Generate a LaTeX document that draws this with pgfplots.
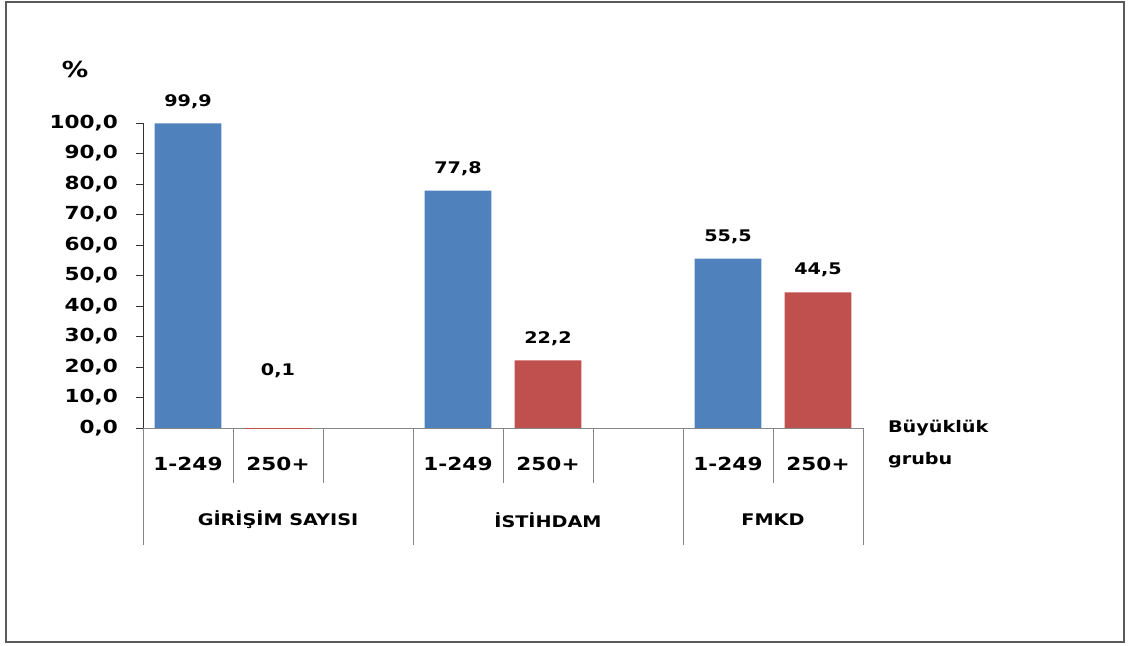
\documentclass[border=0pt]{standalone}
\usepackage{pgfplots}
\pgfplotsset{compat=1.18}
\usepackage{fontspec}
\setmainfont[FakeStretch=1.2]{DejaVu Sans}
\definecolor{barblue}{RGB}{79,129,189}
\definecolor{barred}{RGB}{192,80,77}
\definecolor{sepgray}{RGB}{134,134,134}
\definecolor{framegray}{RGB}{90,90,90}
\begin{document}
\begin{tikzpicture}
\path[use as bounding box] (0,0) rectangle (564.5pt,323pt);
\draw[framegray, line width=1.3pt] (3pt,2pt) rectangle (562pt,322pt);
\begin{axis}[
  at={(71.5pt,109pt)}, anchor=south west,
  scale only axis, width=360pt, height=152.5pt,
  xmin=0, xmax=8, ymin=0, ymax=100,
  axis x line=bottom, axis y line=left,
  axis line style={-, sepgray},
  y axis line style={black!80},
  ytick={0,10,...,100},
  xtick={0.5,1.5,2.5,3.5,4.5,5.5,6.5,7.5},
  xticklabels={1-249,250+,,1-249,250+,,1-249,250+},
  x tick style={draw=none},
  y tick style={black!80},
  tick align=outside, major tick length=3.5pt,
  font=\fontsize{8}{9.6}\selectfont\bfseries,
  tick label style={font=\fontsize{9}{10.8}\selectfont\bfseries},
  yticklabel style={xshift=-5.5pt, /pgf/number format/.cd, fixed, fixed zerofill, precision=1, use comma, assume math mode=true},
  xticklabel style={anchor=center, yshift=-14.5pt},
  clip=false,
  ybar, bar width=0.744, bar shift=0pt,
  nodes near coords={\pgfmathprintnumber[fixed,fixed zerofill,precision=1,use comma,assume math mode=true]{\pgfplotspointmeta}},
  nodes near coords style={anchor=center, yshift=11pt, black},
]
\addplot[fill=barblue, draw=none] coordinates {(0.5,99.9) (3.5,77.8) (6.5,55.5)};
\addplot[fill=barred, draw=none] coordinates {(4.5,22.2) (7.5,44.5)};
\addplot[fill=barred, draw=none, nodes near coords style={yshift=17.5pt}] coordinates {(1.5,0.1)};
\foreach \xx in {1,2,4,5,7} {
  \edef\temp{\noexpand\draw[sepgray] (axis cs:\xx,0) -- ++(0,-27.5pt);}\temp
}
\foreach \xx in {0,3,6,8} {
  \edef\temp{\noexpand\draw[sepgray] (axis cs:\xx,0) -- ++(0,-58.5pt);}\temp
}
\node[font=\fontsize{8}{9.6}\selectfont\bfseries] at (axis cs:1.5,0) [yshift=-46pt] {GİRİŞİM SAYISI};
\node[font=\fontsize{8}{9.6}\selectfont\bfseries] at (axis cs:4.5,0) [yshift=-46pt] {İSTİHDAM};
\node[font=\fontsize{8}{9.6}\selectfont\bfseries] at (axis cs:7,0) [yshift=-46pt] {FMKD};
\end{axis}
\node[font=\fontsize{11}{13}\selectfont\bfseries] at (37.5pt,288pt) {\%};
\node[anchor=west, font=\fontsize{8}{9.6}\selectfont\bfseries] at (440.5pt,109pt) {Büyüklük};
\node[anchor=west, font=\fontsize{8}{9.6}\selectfont\bfseries] at (440.5pt,93pt) {grubu};
\end{tikzpicture}
\end{document}
